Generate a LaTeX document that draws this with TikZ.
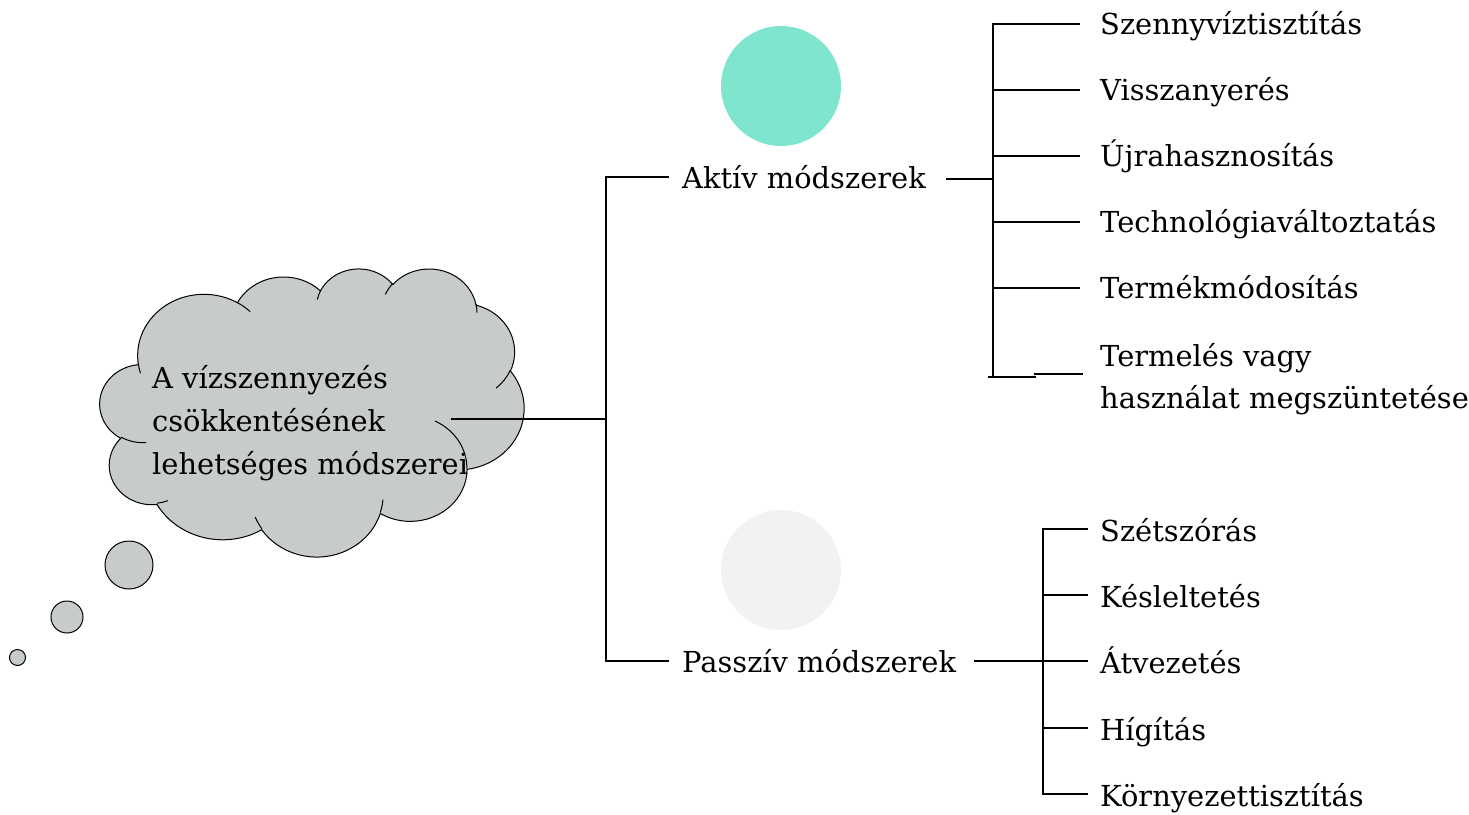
\documentclass[tikz,border=0pt]{standalone}
\usepackage{fontspec}
\setmainfont{DejaVu Serif}
\definecolor{cloudgray}{HTML}{C8CBCB}
\definecolor{mint}{HTML}{80E5CE}
\definecolor{paleg}{HTML}{F2F2F2}
% elliptical arc given by radii, start angle and sweep measured as ray angles
\newcommand\ooarc[4]{arc[x radius=#1, y radius=#2,
  start angle={atan2((#1)*sin(#3),(#2)*cos(#3))},
  delta angle={mod(atan2((#1)*sin((#3)+(#4)),(#2)*cos((#3)+(#4)))-atan2((#1)*sin(#3),(#2)*cos(#3))+720,360)}]}
\begin{document}
\begin{tikzpicture}[x=1pt,y=-1pt,
  tree/.style={line width=2pt, line cap=rect},
  cloudshape/.style={fill=cloudgray, draw=black, line width=1pt},
  cloudedge/.style={draw=black, line width=1pt},
  lbl/.style={anchor=base west, inner sep=0pt, font=\fontsize{28.9}{42}\selectfont}]
\useasboundingbox (0,0) rectangle (1469,814);

% decorative discs above each branch
\fill[mint] (781,86) circle[radius=60];
\fill[paleg] (781,570) circle[radius=60];

% thought cloud
\begin{scope}[shift={(100,268)}, x=0.0981481pt, y=-0.0666667pt]
  \path[cloudshape] (390,1437)
    \ooarc{675.3}{919.0}{-190.4875}{123.7805}
    \ooarc{533.3}{726.7}{-144.1024}{89.9452}
    \ooarc{436.5}{594.5}{-145.8079}{99.7230}
    \ooarc{485.7}{659.5}{-130.9861}{117.2417}
    \ooarc{533.3}{727.3}{-78.7089}{109.0269}
    \ooarc{677.5}{922.0}{-46.2673}{130.2690}
    \ooarc{578.5}{786.7}{0.6250}{114.0333}
    \ooarc{675.2}{921.5}{22.4516}{115.1726}
    \ooarc{772.0}{1054.3}{66.2426}{75.7110}
    \ooarc{436.0}{591.8}{-274.9421}{146.7356}
    \ooarc{434.5}{594.5}{-246.8285}{152.5189}
    -- cycle;
  \path[cloudedge] (469.3,2617.7) \ooarc{434.5}{594.5}{86.7420}{26.4295};
  \path[cloudedge] (692.8,3489.9) \ooarc{436.0}{591.8}{73.6105}{11.4475};
  \path[cloudedge] (1647.8,3909.0) \ooarc{675.2}{921.5}{137.6242}{14.0811};
  \path[cloudedge] (2882.7,3475.1) \ooarc{675.2}{921.5}{6.4533}{15.9984};
  \path[cloudedge] (3412.9,2295.4) \ooarc{578.5}{786.7}{-70.2924}{70.9174};
  \path[cloudedge] (4179.8,1535.4) \ooarc{533.3}{727.3}{30.3180}{27.7515};
  \path[cloudedge] (3832.4,542.6) \ooarc{485.7}{659.5}{-13.7443}{14.8589};
  \path[cloudedge] (2907.8,395.2) \ooarc{485.7}{659.5}{-149.1815}{18.1954};
  \path[cloudedge] (2214.1,472.0) \ooarc{436.5}{594.5}{-163.4943}{17.6864};
  \path[cloudedge] (1400.0,519.2) \ooarc{675.3}{919.0}{-66.7070}{12.3194};
  \path[cloudedge] (412.7,1578.9) \ooarc{675.3}{919.0}{157.6544}{11.8582};
\end{scope}

% trailing bubbles of the cloud
\path[cloudshape] (129,565) circle[radius=24];
\path[cloudshape] (67,617) circle[radius=16];
\path[cloudshape] (17.5,657.5) circle[radius=8];

% cloud text
\node[lbl] (c1) at (152,388) {A vízszennyezés};
\node[lbl] (c2) at (152,431) {csökkentésének};
\node[lbl] (c3) at (152,474) {lehetséges módszerei};

% the two method groups
\node[lbl] (aktiv) at (682,188) {Aktív módszerek};
\node[lbl] (passziv) at (682,672) {Passzív módszerek};

% active methods
\node[lbl] (a1) at (1100,34) {Szennyvíztisztítás};
\node[lbl] (a2) at (1100,100) {Visszanyerés};
\node[lbl] (a3) at (1100,166) {Újrahasznosítás};
\node[lbl] (a4) at (1100,232) {Technológiaváltoztatás};
\node[lbl] (a5) at (1100,298) {Termékmódosítás};
\node[lbl] (a6a) at (1100,366) {Termelés vagy};
\node[lbl] (a6b) at (1100,408) {használat megszüntetése};

% passive methods
\node[lbl] (p1) at (1100,541) {Szétszórás};
\node[lbl] (p2) at (1100,607) {Késleltetés};
\node[lbl] (p3) at (1100,673) {Átvezetés};
\node[lbl] (p4) at (1100,740) {Hígítás};
\node[lbl] (p5) at (1100,806) {Környezettisztítás};

% connector end points
\coordinate (root) at (452,419);
\coordinate (hub) at (606,419);
\coordinate (hubA) at (606,177);
\coordinate (hubP) at (606,661);
\coordinate (inA) at (668,177);
\coordinate (inP) at (668,661);
\coordinate (outA) at (947,179);
\coordinate (outP) at (975,661);
\coordinate (spA) at (993,179);
\coordinate (spP) at (1043,661);
\foreach \n/\y in {a1/24,a2/90,a3/156,a4/222,a5/288} {
  \coordinate (s\n) at (993,\y);
  \coordinate (e\n) at (1079,\y);
}
\coordinate (sa6) at (993,377);
\coordinate (ma6) at (1035,377);
\coordinate (na6) at (1035,374);
\coordinate (ea6) at (1082,374);
\foreach \n/\y in {p1/529,p2/595,p3/661,p4/728,p5/794} {
  \coordinate (s\n) at (1043,\y);
  \coordinate (e\n) at (1087,\y);
}

% main tree
\draw[tree] (root) -- (hub);
\draw[tree] (inA) -- (hubA) -- (hubP) -- (inP);

% active bracket
\draw[tree] (outA) -- (spA);
\draw[tree] (sa1) -- (sa6);
\foreach \n in {a1,a2,a3,a4,a5} \draw[tree] (s\n) -- (e\n);
\draw[tree] ([xshift=-4pt]sa6) -- (ma6);
\draw[tree] (na6) -- (ea6);

% passive bracket
\draw[tree] (outP) -- (ep3);
\draw[tree] (sp1) -- (sp5);
\foreach \n in {p1,p2,p4,p5} \draw[tree] (s\n) -- (e\n);
\end{tikzpicture}
\end{document}
